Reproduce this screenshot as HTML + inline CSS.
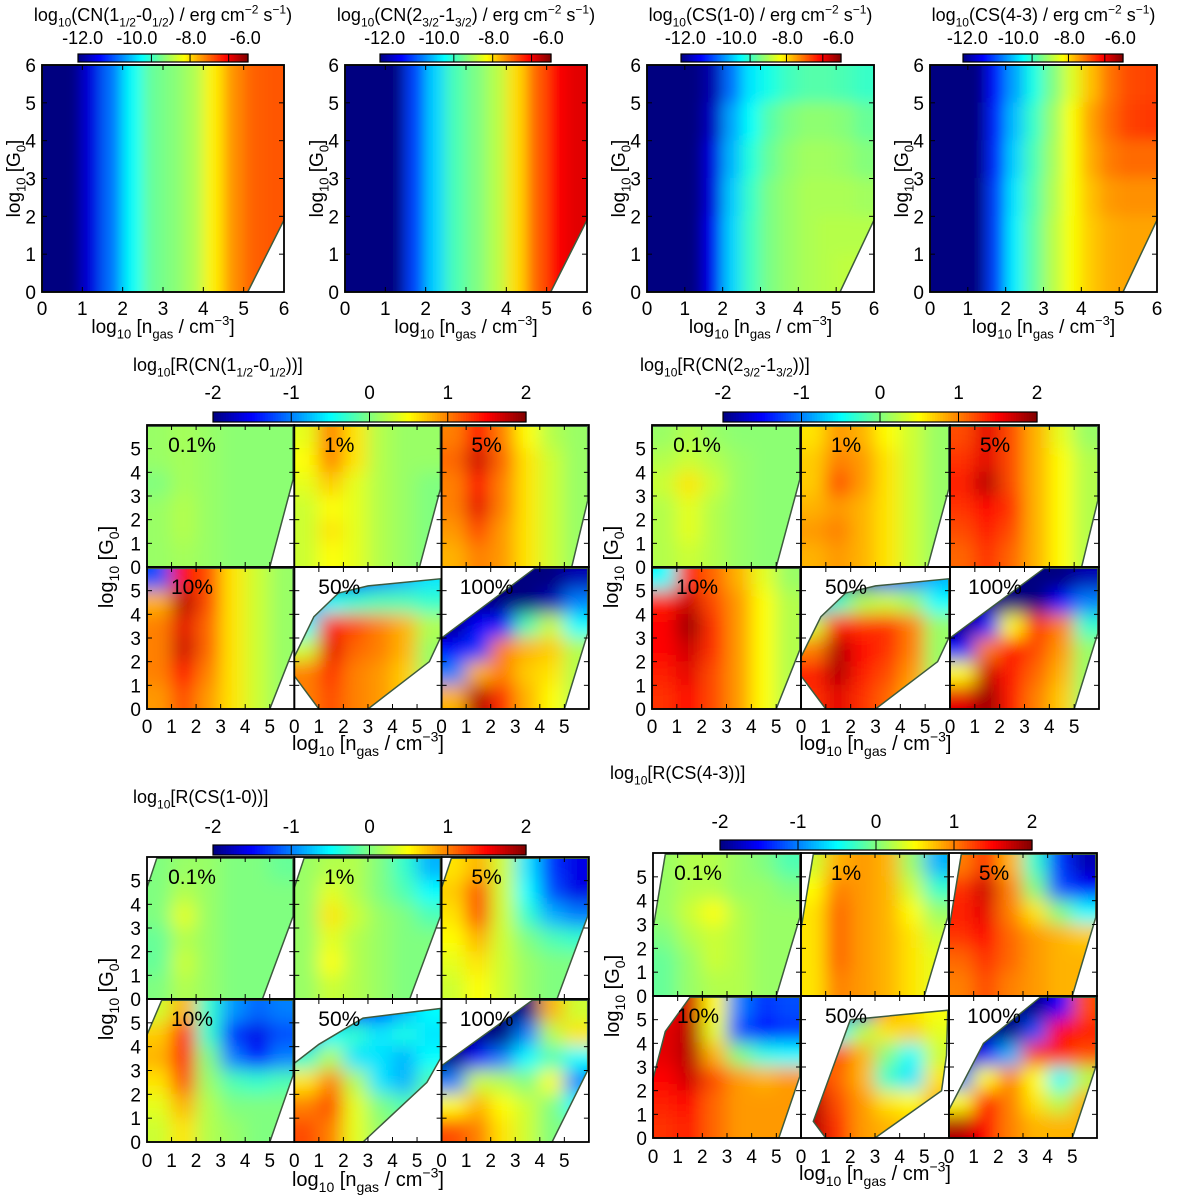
<!DOCTYPE html>
<html><head><meta charset="utf-8"><style>
html,body{margin:0;padding:0;background:#fff}
svg{display:block;font-family:"Liberation Sans",sans-serif}
</style></head><body>
<svg id="fig" xmlns="http://www.w3.org/2000/svg" width="1200" height="1198" viewBox="0 0 1200 1198">
<defs>
<filter id="blurS" x="-20%" y="-20%" width="140%" height="140%"><feGaussianBlur stdDeviation="7"/></filter>
<filter id="blurM" x="-20%" y="-20%" width="140%" height="140%"><feGaussianBlur stdDeviation="9"/></filter>
</defs>
</svg>
<script>
// ===== Top-panel data (log10 intensity), rows G0=5.5..0.5, cols n=0.25..5.75 =====
const TOP_CN1 = [[-15,-15,-14,-12.5,-11,-10,-9.7,-9.3,-8.3,-7.3,-6.8,-6.7]];
const TOP_CN2 = [[-15,-15,-15,-13,-11.5,-10.3,-9.8,-9.2,-8.1,-6.8,-5.8,-5.5]];
const TOP_CS10 = [
 [-15,-15,-15,-14.5,-12.5,-11.3,-10.8,-10.4,-10.2,-10.2,-10.3,-10.5],
 [-15,-15,-15,-14.3,-12,-11,-10.2,-9.8,-9.6,-9.6,-9.7,-10],
 [-15,-15,-15,-14,-11.8,-10.7,-10,-9.6,-9.4,-9.4,-9.5,-9.7],
 [-15,-15,-15,-14,-11.6,-10.5,-9.8,-9.5,-9.3,-9.3,-9.3,-9.4],
 [-15,-15,-15,-13.8,-11.5,-10.4,-9.8,-9.5,-9.3,-9.2,-9.2,-9.2],
 [-15,-15,-15,-13.8,-11.5,-10.4,-9.8,-9.5,-9.3,-9.2,-9.1,-9.1]];
const TOP_CS43 = [
 [-15,-15,-15,-13.5,-12,-10.8,-9.8,-8.8,-7.8,-7,-6.6,-6.5],
 [-15,-15,-15,-13.3,-11.7,-10.5,-9.5,-8.5,-7.5,-6.9,-6.5,-6.4],
 [-15,-15,-15,-13.2,-11.5,-10.3,-9.4,-8.5,-7.6,-7.1,-6.9,-6.9],
 [-15,-15,-15,-13,-11.3,-10.2,-9.3,-8.5,-7.8,-7.4,-7.3,-7.3],
 [-15,-15,-15,-13,-11.2,-10.1,-9.2,-8.5,-7.9,-7.6,-7.5,-7.5],
 [-15,-15,-15,-13,-11.2,-10.1,-9.2,-8.5,-7.9,-7.6,-7.5,-7.5]];
const TOP_CBAR_LABEL_VALUES = [-12,-10,-8,-6];
const TOP_CBAR_LABELS = ["-12.0","-10.0","-8.0","-6.0"];
const TOP_CBAR_DIVS = [-10,-8,-6];
const AXIS_TICKS_TOP = [0,1,2,3,4,5,6];
const AXIS_TICKS_GRID = [0,1,2,3,4,5];
const PERCENT_LABELS = ["0.1%","1%","5%","10%","50%","100%"];
const R_CBAR_TICKS = [-2,-1,0,1,2];

// ===== Ratio data (log10 R), rows G0=5.5..0.5, cols n=0.5..5.5 =====
const R_CN1 = [
 [[0.1,0.15,0.1,0.05,0.05,0.05],[0.1,0.15,0.1,0.05,0.05,0.05],[0,0.15,0.1,0.05,0.05,0.05],[0.1,0.2,0.1,0.05,0.05,0.05],[0.1,0.2,0.1,0.05,0.05,0.05],[0.1,0.15,0.1,0.05,0.05,0.05]],
 [[0.4,1.0,0.6,0.2,0.1,0.1],[0.5,1.0,0.6,0.2,0.1,0.1],[0.4,0.7,0.4,0.2,0.1,0],[0.3,0.5,0.4,0.2,0.1,0],[0.3,0.6,0.4,0.2,0.1,0],[0.3,0.5,0.4,0.2,0.1,0]],
 [[1.0,1.5,1.0,0.5,0.2,0.1],[1.1,1.7,1.1,0.6,0.3,0.1],[1,1.5,1,0.6,0.3,0.1],[1,1.6,1,0.6,0.3,0.1],[0.9,1.2,0.9,0.6,0.3,0.1],[0.8,1,0.9,0.6,0.3,0.1]],
 [[-1.2,1.5,1.2,0.6,0.3,0.1],[0.8,1.8,1.2,0.6,0.3,0.1],[1,1.6,1.1,0.6,0.3,0.1],[1,1.7,1.1,0.6,0.3,0.1],[1,1.5,1.0,0.6,0.3,0.1],[0.9,1.2,0.9,0.6,0.3,0.1]],
 [[-2,-2,-1.5,-1,-0.8,-0.6],[-1,-0.5,-0.3,-0.2,-0.2,-0.3],[-0.5,1.4,1.2,1,0.8,0.2],[0.3,1.6,1.1,1,0.8,0.1],[1,1.3,1.0,0.9,0.7,0.1],[1,1.2,1,0.9,0.7,0.1]],
 [[-2,-2,-2,-2,-2,-1.8],[-2,-2,-2,-2,-1.8,-1],[-2,-1.5,-1.4,-0.2,0.3,-0.5],[-1.5,-1.3,1,0.8,0.7,0.2],[-1,0.8,1,0.7,0.6,0.2],[0.8,1.8,1.3,0.8,0.5,0.2]]];
const R_CN2 = [
 [[0.1,0.2,0.1,0.05,0.05,0.05],[0.2,0.3,0.2,0.1,0.05,0.05],[0.3,0.6,0.3,0.1,0.05,0.05],[0.2,0.4,0.2,0.1,0.05,0.05],[0.2,0.4,0.2,0.1,0.05,0.05],[0.2,0.3,0.2,0.1,0.05,0.05]],
 [[0.6,0.9,0.8,0.5,0.3,0.1],[0.7,1,0.9,0.6,0.3,0.1],[0.7,1.2,0.9,0.6,0.3,0.1],[0.8,0.9,0.8,0.6,0.3,0.1],[0.9,1.0,0.8,0.6,0.3,0.1],[0.8,0.9,0.8,0.6,0.3,0.1]],
 [[1.2,1.6,1.2,0.8,0.4,0.1],[1.3,1.6,1.2,0.8,0.5,0.2],[1.4,1.8,1.2,0.8,0.5,0.2],[1.3,1.5,1.3,0.8,0.5,0.2],[1.2,1.4,1.2,0.8,0.5,0.2],[1.1,1.3,1.1,0.8,0.5,0.2]],
 [[-0.5,1.4,1.1,0.8,0.4,0.1],[1.4,1.7,1.2,0.9,0.5,0.2],[1.5,1.9,1.3,0.9,0.5,0.2],[1.5,1.7,1.3,0.9,0.5,0.2],[1.4,1.6,1.2,0.9,0.5,0.2],[1.3,1.5,1.2,0.9,0.5,0.2]],
 [[-2,-2,-1.8,-1.2,-1,-0.8],[-1,-0.3,0.2,0.3,0.1,-0.5],[0.3,1.4,1.3,1.3,1,0.1],[1,1.8,1.5,1.3,1,0.1],[1.4,1.8,1.4,1.2,0.9,0.1],[1.3,1.6,1.3,1.1,0.8,0.1]],
 [[-2,-2,-2,-2,-2,-1.8],[-2,-2,-2,-2,-1.5,-1],[-2,-1.5,0.5,1.3,1,-0.3],[-1.5,1,1.5,1.2,0.9,0.1],[0.5,1.7,1.4,1.1,0.8,0.1],[1.6,1.9,1.4,1,0.7,0.1]]];
const R_CS10 = [
 [[0,0.1,0.1,0,0,-0.1],[0,0.2,0.1,0,0,0],[0,0.4,0.1,0,0,0],[-0.1,0.2,0.1,0,0,0],[-0.1,0.3,0.1,0,0,0],[0,0.2,0.1,0,0,0]],
 [[0.1,0.2,0.2,0,-0.3,-0.8],[0.1,0.4,0.2,0,-0.2,-0.5],[0.1,0.6,0.3,0.1,0,-0.2],[0.1,0.4,0.2,0.1,0,0],[0.1,0.5,0.2,0.1,0,0],[0.1,0.3,0.2,0.1,0,0]],
 [[0.6,0.8,0.3,-0.6,-1.3,-1.6],[0.7,1.2,0.3,-0.5,-1.2,-1.6],[0.6,1.2,0.3,-0.3,-0.8,-1.0],[0.5,0.8,0.3,0,-0.2,-0.3],[0.4,0.6,0.3,0.1,0,0],[0.3,0.5,0.3,0.1,0,0]],
 [[0.3,0.8,-0.3,-0.9,-1.1,-1.0],[0.7,1.5,-0.3,-1.3,-1.6,-1.2],[0.8,1.5,0,-1,-1.5,-1],[0.6,1.2,0.1,-0.2,-0.3,-0.2],[0.4,0.8,0.2,0,0,0],[0.3,0.6,0.2,0.1,0,0]],
 [[-2,-2,-1.5,-1.2,-0.8,-0.5],[-1,-0.5,-0.3,-0.6,-0.4,-0.6],[-0.3,0.2,-0.6,-0.6,-0.8,-0.5],[0.6,1,0.2,-0.6,-0.8,-0.2],[1,1.2,0.4,0,-0.2,0],[1.2,1,0.4,0.1,0,0]],
 [[-2,-2,-2,-2,0.8,0.3],[-2,-2,-2,-1,0.2,0.6],[-2,-1.5,-1,-0.5,-0.2,-0.5],[-1,0.3,0.2,0,0.5,-1],[0.5,0.8,0.5,0.3,0,-0.5],[1.2,1,0.6,0.3,0,0]]];
const R_CS43 = [
 [[0.1,0.2,0.2,0.1,0,-0.2],[0.1,0.2,0.2,0.1,0.1,0],[0.1,0.3,0.5,0.2,0.1,0.1],[0,0.2,0.3,0.2,0.1,0.1],[-0.1,0.1,0.3,0.2,0.1,0.1],[-0.1,0.1,0.2,0.2,0.1,0.1]],
 [[0.3,0.8,0.9,0.8,0.1,-0.8],[0.5,1.0,0.9,0.8,0.3,-0.3],[0.6,1.1,0.9,0.8,0.5,0.1],[0.6,1.1,0.9,0.8,0.6,0.3],[0.6,1.1,0.9,0.8,0.6,0.4],[0.6,1,0.9,0.8,0.6,0.4]],
 [[1,1.3,0.8,-0.3,-1.3,-1.8],[1.3,1.7,1,0,-1.2,-1.5],[1.4,1.6,1,0.6,0,-0.5],[1.3,1.5,1.1,0.9,0.8,0.7],[1.1,1.3,1.1,0.9,0.8,0.8],[1,1.2,1,0.9,0.8,0.8]],
 [[1.5,1.7,0.5,-1,-1.3,-1.2],[1.6,1.8,0.4,-1.2,-1.5,-1.3],[1.6,1.8,0.8,0,-0.4,-0.5],[1.5,1.7,1.2,0.9,0.8,0.9],[1.4,1.5,1.1,0.9,0.9,0.9],[1.3,1.4,1.1,0.9,0.9,0.9]],
 [[-2,-2,-1.6,0.9,0.6,0.5],[-1.2,-0.5,0.2,0.6,0.7,0.4],[0.8,1.2,0.8,0,-0.5,0.3],[1.5,1.1,0.8,-0.3,-0.6,0.6],[1.8,1.2,0.9,0.6,0.5,0.8],[1.8,1.3,0.9,0.8,0.7,0.8]],
 [[-2,-2,-2,-2,-1.5,1.2],[-2,-2,-2,-1.2,1.5,1.4],[-2,-1.5,-0.8,1.3,1.4,1.2],[-1,0.5,1,0.5,-0.5,0.2],[0.5,1.5,1,0.6,0.2,0.8],[1.8,1.5,1,0.8,0.8,0.8]]];

// valid-domain shapes (data coords)
const DOM_TOP = [[0,0],[5.1,0],[6,1.9],[6,6],[0,6]];
const DOM_CN = [
 [[0,0],[5.0,0],[5.95,3.7],[5.95,5.95],[0,5.95]],
 [[0,0],[5.1,0],[5.95,3.3],[5.95,5.95],[0,5.95]],
 [[0,0],[5.3,0],[5.95,2.8],[5.95,5.95],[0,5.95]],
 [[0,0],[5.0,0],[5.95,2.5],[5.95,5.95],[0,5.95]],
 [[0,1.4],[0,2.2],[0.8,3.9],[1.8,4.9],[3,5.2],[5.95,5.5],[5.95,3],[5.5,2],[3,0],[1,0]],
 [[0,0],[5,0],[5.95,3.2],[5.95,5.95],[3.8,5.95],[0,3]]];
const DOM_CS10 = [
 [[0,0],[4.7,0],[5.95,3.5],[5.95,5.95],[0.4,5.95],[0,4.7]],
 [[0,0],[4.7,0],[5.95,3.5],[5.95,5.95],[0.4,5.95],[0,4.7]],
 [[0,0],[4.7,0],[5.95,3.5],[5.95,5.95],[0.4,5.95],[0,4.7]],
 [[0,0],[5.0,0],[5.95,2.8],[5.95,5.95],[0.6,5.95],[0,4.5]],
 [[0,0],[2.8,0],[5.4,2.5],[5.95,3.5],[5.95,5.6],[2.8,5.2],[1,4.1],[0,3.3]],
 [[0,0],[4.5,0],[5.95,3],[5.95,5.95],[3.7,5.95],[0,3.2]]];
const DOM_CS43 = [
 [[0,0],[5,0],[5.95,3.3],[5.95,5.95],[0.5,5.95],[0,2.8]],
 [[0,0],[5,0],[5.95,3.3],[5.95,5.95],[0.5,5.95],[0,2.8]],
 [[0,0],[5,0],[5.95,3.3],[5.95,5.95],[0.5,5.95],[0,2.8]],
 [[0,0],[5.1,0],[5.95,2.6],[5.95,5.95],[1.5,5.95],[0.5,4.5],[0,2.5]],
 [[1,0],[0.5,0.7],[2,5],[5.95,5.4],[5.9,3.5],[5.7,2],[3,0]],
 [[0,0],[5,0],[5.95,3],[5.95,5.95],[3.7,5.95],[1.4,4],[0,1.2]]];

const NS='http://www.w3.org/2000/svg';
const svg=document.getElementById('fig');
function el(tag,attrs,parent){const e=document.createElementNS(NS,tag);for(const k in attrs)e.setAttribute(k,attrs[k]);(parent||svg).appendChild(e);return e;}
function jet(t){t=Math.max(0,Math.min(1,t));const c=x=>Math.round(255*Math.max(0,Math.min(1,x)));return `rgb(${c(1.5-Math.abs(4*t-3))},${c(1.5-Math.abs(4*t-2))},${c(1.5-Math.abs(4*t-1))})`;}
let clipId=0;
function txt(parent,x,y,parts,size,anchor,name,rot){
  const t=el('text',{x:x,y:y,'font-size':size,'text-anchor':anchor||'middle',fill:'#000'},parent);
  if(rot)t.setAttribute('transform',`rotate(-90 ${x} ${y})`);
  
  
  for(const p of parts){
    if(typeof p==='string'){const s=el('tspan',{},t);s.textContent=p;}
    else{const s=el('tspan',{'font-size':Math.round(size*0.68),dy:p.sub?size*0.3:-size*0.42},t);s.textContent=p.t;
      const back=el('tspan',{dy:p.sub?-size*0.3:size*0.42},t);back.textContent='\u200b';}
  }
  return t;
}
function drawMap(parent,grid,px,py,pw,ph,xmax,ymax,vmin,vmax,dom,filt){
  const sx=v=>px+v/xmax*pw, sy=v=>py+ph-v/ymax*ph;
  const id='clip'+(clipId++);
  const cp=el('clipPath',{id:id},parent);
  const pts=dom.map(p=>sx(p[0]).toFixed(1)+','+sy(p[1]).toFixed(1)).join(' ');
  el('polygon',{points:pts},cp);
  const g=el('g',{'clip-path':`url(#${id})`},parent);
  
  
  const inner=el('g',{filter:`url(#${filt})`},g);
  const R=grid.length,C=grid[0].length;
  for(let r=0;r<R;r++)for(let c=0;c<C;c++){
    let x1=sx(c*xmax/C),x2=sx((c+1)*xmax/C),y1=sy(ymax-r*ymax/R),y2=sy(ymax-(r+1)*ymax/R);
    if(c===0)x1-=30; if(c===C-1)x2+=30; if(r===0)y1-=30; if(r===R-1)y2+=30;
    const rc=el('rect',{x:x1-0.5,y:y1-0.5,width:x2-x1+1,height:y2-y1+1,fill:jet((grid[r][c]-vmin)/(vmax-vmin))},inner);
    
    
  }
  const ol=el('polygon',{points:pts,fill:'none',stroke:'#3d5a3d','stroke-width':1.5},parent);
  
  
}
function frame(parent,px,py,pw,ph,xmax,ymax,xt,yt,tick){
  const sx=v=>px+v/xmax*pw, sy=v=>py+ph-v/ymax*ph;
  for(const v of xt){el('line',{x1:sx(v),x2:sx(v),y1:py+ph,y2:py+ph-tick,stroke:'#000','stroke-width':1},parent);el('line',{x1:sx(v),x2:sx(v),y1:py,y2:py+tick,stroke:'#000','stroke-width':1},parent);}
  for(const v of yt){el('line',{x1:px,x2:px+tick,y1:sy(v),y2:sy(v),stroke:'#000','stroke-width':1},parent);el('line',{x1:px+pw,x2:px+pw-tick,y1:sy(v),y2:sy(v),stroke:'#000','stroke-width':1},parent);}
  const f=el('rect',{x:px,y:py,width:pw,height:ph,fill:'none',stroke:'#000','stroke-width':1.8},parent);
  
  
}
function colorbarBody(g,x,y,w,h){
  const N=120;
  for(let i=0;i<N;i++)el('rect',{x:x+i*w/N,y:y,width:w/N+0.6,height:h,fill:jet((i+0.5)/N)},g);
  el('rect',{x:x,y:y,width:w,height:h,fill:'none',stroke:'#000','stroke-width':1.2},g);
}
const XLABEL=['log',{t:'10',sub:1},' [n',{t:'gas',sub:1},' / cm',{t:'\u22123'},']'];
const YLABEL=['log',{t:'10',sub:1},' [G',{t:'0',sub:1},']'];

// ===== top row =====
const TOP=[
 {grid:TOP_CN1,x:42,w:242,cb:[78,170],title:['log',{t:'10',sub:1},'(CN(1',{t:'1/2',sub:1},'-0',{t:'1/2',sub:1},') / erg cm',{t:'\u22122'},' s',{t:'\u22121'},')']},
 {grid:TOP_CN2,x:345,w:242,cb:[380,171],title:['log',{t:'10',sub:1},'(CN(2',{t:'3/2',sub:1},'-1',{t:'3/2',sub:1},') / erg cm',{t:'\u22122'},' s',{t:'\u22121'},')']},
 {grid:TOP_CS10,x:647,w:227,cb:[681,160],title:['log',{t:'10',sub:1},'(CS(1-0) / erg cm',{t:'\u22122'},' s',{t:'\u22121'},')']},
 {grid:TOP_CS43,x:930,w:227,cb:[963,160],title:['log',{t:'10',sub:1},'(CS(4-3) / erg cm',{t:'\u22122'},' s',{t:'\u22121'},')']}];
// colorbar label scale: label value -> fraction along bar
const LBL_MIN=-12.17, LBL_MAX=-5.9, DIV_MIN=-13.8, DIV_MAX=-5.0;
TOP.forEach((p,i)=>{
  const g=el('g',{});
  
  
  const py=65,ph=227;
  drawMap(g,p.grid,p.x,py,p.w,ph,6,6,-15,-4.5,DOM_TOP,'blurS');
  frame(g,p.x,py,p.w,ph,6,6,AXIS_TICKS_TOP,AXIS_TICKS_TOP,5);
  const cb=el('g',{},g);
  
  
  colorbarBody(cb,p.cb[0],54,p.cb[1],8);
  TOP_CBAR_DIVS.forEach(v=>{const xx=p.cb[0]+(v-DIV_MIN)/(DIV_MAX-DIV_MIN)*p.cb[1];el('line',{x1:xx,x2:xx,y1:54,y2:62,stroke:'#000','stroke-width':1},cb);});
  TOP_CBAR_LABEL_VALUES.forEach((v,k)=>{const xx=p.cb[0]+(v-LBL_MIN)/(LBL_MAX-LBL_MIN)*p.cb[1];txt(cb,xx,44,[TOP_CBAR_LABELS[k]],18,'middle','colorbar-tick-label');});
  const cx=p.x+p.w/2;
  txt(g,cx,21,p.title,18,'middle','panel-title');
  AXIS_TICKS_TOP.forEach(v=>{txt(g,p.x+v/6*p.w,315,[String(v)],19,'middle','x-tick-label');
    txt(g,p.x-6,py+ph-v/6*ph+7,[String(v)],19,'end','y-tick-label');});
  txt(g,cx,333,XLABEL,19,'middle','x-axis-title');
  txt(g,p.x-22,py+ph/2,YLABEL,19,'middle','y-axis-title',true);
});

// ===== ratio groups =====
const GROUPS=[
 {data:R_CN1,dom:DOM_CN,x:147,w:147.3,ys:[425,567,709],cb:[213,412,313],cbl:399,title:['log',{t:'10',sub:1},'[R(CN(1',{t:'1/2',sub:1},'-0',{t:'1/2',sub:1},'))]'],tx:133,ty:371,xl:750,tl:733},
 {data:R_CN2,dom:DOM_CN,x:652,w:149,ys:[425,567,709],cb:[723,412,314],cbl:399,title:['log',{t:'10',sub:1},'[R(CN(2',{t:'3/2',sub:1},'-1',{t:'3/2',sub:1},'))]'],tx:640,ty:371,xl:750,tl:733},
 {data:R_CS10,dom:DOM_CS10,x:147,w:147.3,ys:[857,999,1142],cb:[213,845,313],cbl:833,title:['log',{t:'10',sub:1},'[R(CS(1-0))]'],tx:133,ty:803,xl:1186,tl:1167},
 {data:R_CS43,dom:DOM_CS43,x:653,w:148,ys:[853,996,1138],cb:[720,840,312],cbl:828,title:['log',{t:'10',sub:1},'[R(CS(4-3))]'],tx:610,ty:779,xl:1180,tl:1163}];
GROUPS.forEach((G,gi)=>{
  const g=el('g',{});
  
  
  G.data.forEach((grid,k)=>{
    const col=k%3,row=Math.floor(k/3);
    const px=G.x+col*G.w,py=G.ys[row],ph=G.ys[row+1]-G.ys[row];
    drawMap(g,grid,px,py,G.w,ph,6,6,-2,2,G.dom[k],'blurM');
    frame(g,px,py,G.w,ph,6,6,AXIS_TICKS_GRID,AXIS_TICKS_GRID,5);
    txt(g,px+45,py+27,[PERCENT_LABELS[k]],21,'middle','percent-label');
    if(col===0)AXIS_TICKS_GRID.forEach(v=>txt(g,px-6,py+ph-v/6*ph+7,[String(v)],19,'end','y-tick-label'));
    if(row===1)AXIS_TICKS_GRID.forEach(v=>txt(g,px+v/6*G.w,G.tl,[String(v)],19,'middle','x-tick-label'));
  });
  const cb=el('g',{},g);
  
  
  colorbarBody(cb,G.cb[0],G.cb[1],G.cb[2],10);
  R_CBAR_TICKS.forEach(v=>{const xx=G.cb[0]+(v+2)/4*G.cb[2];el('line',{x1:xx,x2:xx,y1:G.cb[1],y2:G.cb[1]+10,stroke:'#000','stroke-width':1},cb);
    txt(cb,xx,G.cbl,[String(v)],19,'middle','colorbar-tick-label');});
  txt(g,G.tx,G.ty,G.title,18,'start','group-title');
  txt(g,G.x+1.5*G.w,G.xl,XLABEL,20,'middle','x-axis-title');
  txt(g,G.x-34,G.ys[1],YLABEL,20,'middle','y-axis-title',true);
});
</script>
</body></html>
